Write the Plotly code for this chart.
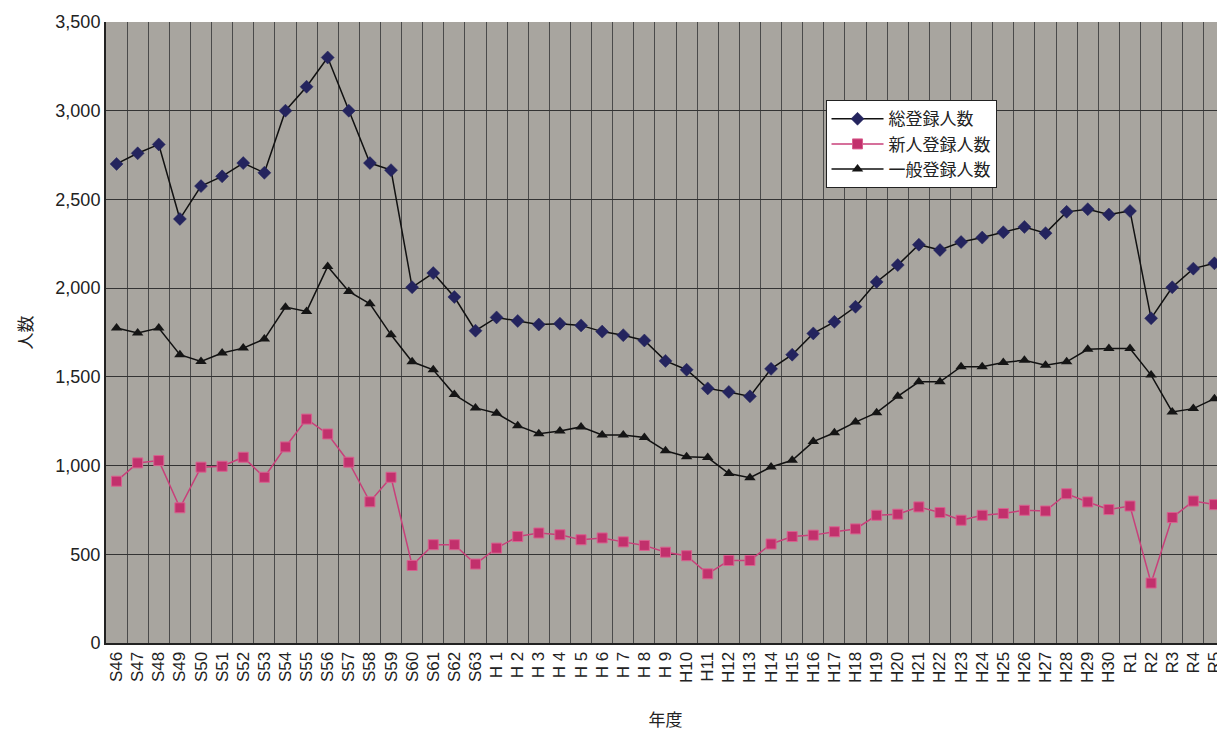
import plotly.graph_objects as go

years = ["S46", "S47", "S48", "S49", "S50", "S51", "S52", "S53", "S54", "S55",
         "S56", "S57", "S58", "S59", "S60", "S61", "S62", "S63",
         "H 1", "H 2", "H 3", "H 4", "H 5", "H 6", "H 7", "H 8", "H 9",
         "H10", "H11", "H12", "H13", "H14", "H15", "H16", "H17", "H18", "H19",
         "H20", "H21", "H22", "H23", "H24", "H25", "H26", "H27", "H28", "H29",
         "H30", "R1", "R2", "R3", "R4", "R5"]

total = [2700, 2760, 2810, 2390, 2575, 2630, 2705, 2650, 3000, 3135,
         3300, 3000, 2705, 2665, 2005, 2085, 1950, 1760,
         1835, 1815, 1795, 1800, 1790, 1755, 1735, 1705, 1590,
         1540, 1435, 1415, 1390, 1545, 1625, 1745, 1810, 1895, 2035,
         2130, 2245, 2215, 2260, 2285, 2315, 2345, 2310, 2430, 2445,
         2415, 2435, 1830, 2005, 2110, 2140]

newcomers = [912, 1015, 1028, 762, 991, 996, 1047, 934, 1105, 1262,
             1178, 1019, 796, 934, 437, 554, 554, 445,
             535, 600, 620, 610, 582, 592, 570, 550, 512,
             492, 390, 465, 465, 558, 600, 608, 627, 643, 720,
             726, 767, 735, 692, 720, 730, 748, 744, 841, 795,
             752, 772, 338, 707, 800, 780]

general = [1775, 1747, 1775, 1625, 1587, 1634, 1662, 1713, 1893, 1869,
           2122, 1981, 1912, 1737, 1585, 1540, 1400, 1325,
           1295, 1225, 1180, 1195, 1218, 1172, 1172, 1158, 1083,
           1050, 1045, 955, 932, 992, 1030, 1135, 1185, 1245, 1298,
           1390, 1472, 1472, 1557, 1557, 1581, 1594, 1566, 1585, 1655,
           1660, 1660, 1510, 1302, 1321, 1377]

names = ["総登録人数", "新人登録人数", "一般登録人数"]

FONT = "Liberation Sans, Arial, Noto Sans CJK JP, sans-serif"

fig = go.Figure()
fig.add_trace(go.Scatter(
    x=years, y=total, name=names[0], mode="lines+markers",
    line=dict(color="#111111", width=1.5),
    marker=dict(symbol="diamond", size=10, color="#24245e",
                line=dict(color="#24245e", width=0.5)),
))
fig.add_trace(go.Scatter(
    x=years, y=newcomers, name=names[1], mode="lines+markers",
    line=dict(color="#c8407a", width=1.5),
    marker=dict(symbol="square", size=10, color="#c2306c",
                line=dict(color="#d9608f", width=1)),
))
fig.add_trace(go.Scatter(
    x=years, y=general, name=names[2], mode="lines+markers",
    line=dict(color="#111111", width=1.5),
    marker=dict(symbol="triangle-up", size=10, color="#151515"),
))

fig.update_layout(
    width=1217, height=726,
    margin=dict(l=98, r=0, t=14, b=91),
    paper_bgcolor="white",
    plot_bgcolor="#a8a59f",
    font=dict(family=FONT, size=17, color="#222222"),
    showlegend=True,
    legend=dict(
        x=0.643, y=0.874, xanchor="left", yanchor="top",
        bgcolor="white", bordercolor="#222222", borderwidth=1,
        font=dict(family=FONT, size=17, color="#222222"),
        tracegroupgap=0, itemwidth=52,
    ),
    xaxis=dict(
        type="category",
        tickmode="array", tickvals=years, ticktext=years,
        tickson="boundaries",
        tickangle=-90,
        showgrid=True, gridcolor="#4a4a4a", gridwidth=1,
        showline=True, linecolor="#222222", linewidth=2,
        ticks="", tickfont=dict(size=17),
        title=dict(text="年度", font=dict(size=17), standoff=32),
        range=[-0.5, 52.5],
    ),
    yaxis=dict(
        range=[0, 3500], dtick=500, tickformat=",",
        showgrid=True, gridcolor="#333333", gridwidth=1,
        showline=True, linecolor="#222222", linewidth=2,
        ticks="", tickfont=dict(size=18), zeroline=False,
        title=dict(text="人数", font=dict(size=17), standoff=18),
    ),
)

fig.write_html("out.html")
